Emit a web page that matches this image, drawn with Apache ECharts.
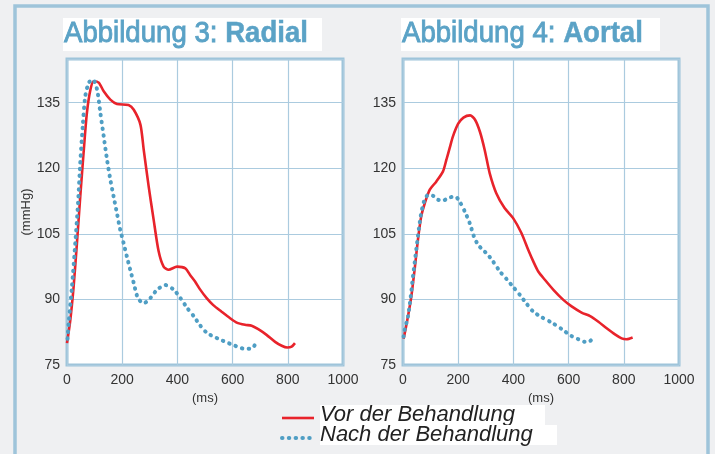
<!DOCTYPE html>
<html>
<head>
<meta charset="utf-8">
<script src="https://cdn.jsdelivr.net/npm/echarts@6/dist/echarts.min.js"></script>
<style>
html,body{margin:0;padding:0;background:#eff0f2;}
#c{width:715px;height:454px;}
</style>
</head>
<body>
<div id="c"></div>
<script>
// ---- data (ms, mmHg) ----
const radialVorMs   = [0, 12, 24, 36, 48, 60, 72, 85, 97, 115, 133, 157, 181, 223, 242, 266, 278, 296, 314, 332, 350, 368, 399, 429, 446, 464, 482, 506, 530, 560, 591, 615, 645, 669, 693, 723, 754, 778, 798, 814, 826];
const radialVorMmHg = [80, 85.3, 92.9, 102.9, 113.5, 123.5, 132.6, 138, 139.9, 139.6, 137.6, 135.7, 134.7, 134.5, 133.4, 130, 124.2, 115.8, 108.2, 101, 97.5, 96.8, 97.5, 97.1, 95.6, 94.1, 92.3, 90.3, 88.7, 87.2, 85.7, 84.7, 84.2, 84, 83.2, 81.9, 80.3, 79.4, 79, 79.2, 80];

const radialNachMs   = [2, 6, 18, 30, 40, 48, 57, 66, 79, 94, 109, 121, 133, 145, 157, 169, 181, 193, 205, 217, 229, 242, 257, 278, 302, 326, 356, 387, 411, 436, 460, 482, 508, 552, 597, 645, 667, 681, 687];
const radialNachMmHg = [81, 84.5, 92.9, 102.9, 112, 121.2, 129.6, 136.4, 139.6, 140.3, 138, 132.6, 127.3, 122, 117.4, 113.5, 109.7, 105.9, 102.9, 99.8, 96.8, 93.7, 90.3, 89.1, 90.3, 92.2, 93.3, 92.2, 90.3, 88, 86.1, 84.1, 82.3, 80.9, 79.7, 78.7, 78.7, 79.6, 80.7];

const aortalVorMs   = [2, 4, 18, 30, 42, 54, 66, 79, 97, 121, 145, 157, 169, 181, 200, 219, 243, 261, 279, 296, 314, 338, 368, 399, 429, 454, 472, 490, 514, 545, 581, 611, 647, 678, 708, 738, 768, 792, 810, 832];
const aortalVorMmHg = [81, 81.5, 86.1, 90.6, 96.8, 103.6, 109, 112, 115.1, 117, 119.3, 121.9, 124.6, 127.3, 130.2, 131.6, 132.1, 131.1, 128.3, 124.2, 118.9, 114.3, 110.9, 108.6, 105.2, 101.3, 98.7, 96.4, 94.5, 92.2, 89.9, 88.4, 87, 86.2, 84.9, 83.4, 82, 81.1, 80.9, 81.3];

const aortalNachMs   = [2, 6, 18, 28, 36, 45, 54, 64, 76, 91, 109, 127, 145, 166, 190, 205, 224, 242, 257, 272, 290, 308, 326, 351, 376, 400, 424, 448, 472, 503, 539, 575, 611, 635, 659, 678, 690];
const aortalNachMmHg = [81.5, 83, 86.1, 90.6, 95.2, 99.8, 104.4, 109, 112.4, 113.9, 113.7, 112.8, 112.6, 113.3, 113.5, 112.4, 110.1, 107.4, 104.4, 102.5, 101.3, 100.2, 98.7, 96.4, 94.6, 92.8, 91, 89, 87.2, 85.9, 84.7, 83.2, 81.6, 80.9, 80.3, 80.5, 81.3];

const titles = [['Abbildung 3: ', 'Radial'], ['Abbildung 4: ', 'Aortal']];
const seriesNames = ['Vor der Behandlung', 'Nach der Behandlung'];
const yTicks = [75, 90, 105, 120, 135];
const xTicks = [0, 200, 400, 600, 800, 1000];

// ---- build ----
const pairs = (xs, ys) => xs.map((x, i) => [x, ys[i]]);
const FONT = "'Liberation Sans', Arial, Helvetica, sans-serif";
const RED = '#e8232b';
const BLUE = '#4f9ec4';
const TITLEC = '#5aa2c6';
const GRIDC = '#abcbdf';
const BORDERC = '#9ec4da';
const DOTS = [0.5, 6.3];

const chart = echarts.init(document.getElementById('c'), null, {renderer: 'canvas'});

const grids = [
  {left: 67, right: 372, top: 59, bottom: 89},
  {left: 403, right: 36, top: 59, bottom: 89}
].map(g => Object.assign(g, {show: true, backgroundColor: '#fff', borderColor: BORDERC, borderWidth: 3, containLabel: false}));

function xAxis(i) {
  return {
    type: 'value', gridIndex: i, min: xTicks[0], max: xTicks[xTicks.length - 1], interval: 200,
    axisLine: {show: false}, axisTick: {show: false},
    axisLabel: {fontFamily: FONT, fontSize: 14, color: '#333', margin: 8,
      formatter: v => xTicks.indexOf(v) >= 0 ? String(v) : ''},
    splitLine: {show: true, lineStyle: {color: GRIDC, width: 1.2}},
    name: '(ms)', nameLocation: 'middle', nameGap: 25,
    nameTextStyle: {fontFamily: FONT, fontSize: 13, color: '#333'}
  };
}
function yAxis(i) {
  const a = {
    type: 'value', gridIndex: i, min: 75, max: 145, interval: 15,
    axisLine: {show: false}, axisTick: {show: false},
    axisLabel: {fontFamily: FONT, fontSize: 14, color: '#333', margin: 7,
      formatter: v => yTicks.indexOf(v) >= 0 ? String(v) : ''},
    splitLine: {show: true, lineStyle: {color: GRIDC, width: 1.2}}
  };
  if (i === 0) {
    a.name = '(mmHg)'; a.nameLocation = 'middle'; a.nameRotate = 90; a.nameGap = 32;
    a.nameTextStyle = {fontFamily: FONT, fontSize: 13, color: '#333'};
  }
  return a;
}
function vor(i, data) {
  return {type: 'line', name: seriesNames[0], xAxisIndex: i, yAxisIndex: i, data, symbol: 'none', smooth: 0.25,
    lineStyle: {color: RED, width: 2.6}, itemStyle: {color: RED}, z: 3};
}
function nach(i, data) {
  return {type: 'line', name: seriesNames[1], xAxisIndex: i, yAxisIndex: i, data, symbol: 'none', smooth: 0.25,
    lineStyle: {color: BLUE, width: 4, type: DOTS, cap: 'round'}, itemStyle: {color: BLUE}, z: 4};
}

function titleGroup(x, y, w, parts) {
  return {
    type: 'group', z: 100,
    children: [
      {type: 'rect', shape: {x: x, y: y, width: w, height: 33}, style: {fill: '#fff'}},
      {type: 'text', x: x + 1, y: y + 16, scaleX: 0.92,
        style: {
          text: '{a|' + parts[0] + '}{b|' + parts[1] + '}',
          verticalAlign: 'middle', align: 'left',
          rich: {
            a: {fontFamily: FONT, fontSize: 30, fontWeight: 'normal', fill: TITLEC, stroke: TITLEC, lineWidth: 0.9},
            b: {fontFamily: FONT, fontSize: 30, fontWeight: 'bold', fill: TITLEC, stroke: TITLEC, lineWidth: 0.5}
          }
        }}
    ]
  };
}

function legendItem(y, w, name, lineStyle) {
  return {
    type: 'group', z: 100,
    children: [
      {type: 'line', shape: {x1: 282, y1: y, x2: 314, y2: y}, style: lineStyle},
      {type: 'rect', shape: {x: 320, y: y - 13, width: w, height: 20}, style: {fill: '#fff'}},
      {type: 'text', x: 320, y: y - 3,
        style: {text: name, fontFamily: FONT, fontStyle: 'italic', fontSize: 22, fill: '#222',
          verticalAlign: 'middle', align: 'left'}}
    ]
  };
}

const option = {
  backgroundColor: 'transparent',
  animation: false,
  graphic: [
    {type: 'rect', z: -100, shape: {x: 15, y: 6, width: 693, height: 470},
      style: {fill: '#eff0f2', stroke: BORDERC, lineWidth: 3.5}},
    titleGroup(63, 18, 259, titles[0]),
    titleGroup(401, 18, 259, titles[1]),
    legendItem(418, 225, seriesNames[0], {stroke: RED, lineWidth: 2.6}),
    legendItem(438, 237, seriesNames[1], {stroke: BLUE, lineWidth: 4, lineDash: DOTS, lineCap: 'round'})
  ],
  grid: grids,
  xAxis: [xAxis(0), xAxis(1)],
  yAxis: [yAxis(0), yAxis(1)],
  series: [
    vor(0, pairs(radialVorMs, radialVorMmHg)),
    nach(0, pairs(radialNachMs, radialNachMmHg)),
    vor(1, pairs(aortalVorMs, aortalVorMmHg)),
    nach(1, pairs(aortalNachMs, aortalNachMmHg))
  ]
};
chart.setOption(option);
</script>
</body>
</html>
